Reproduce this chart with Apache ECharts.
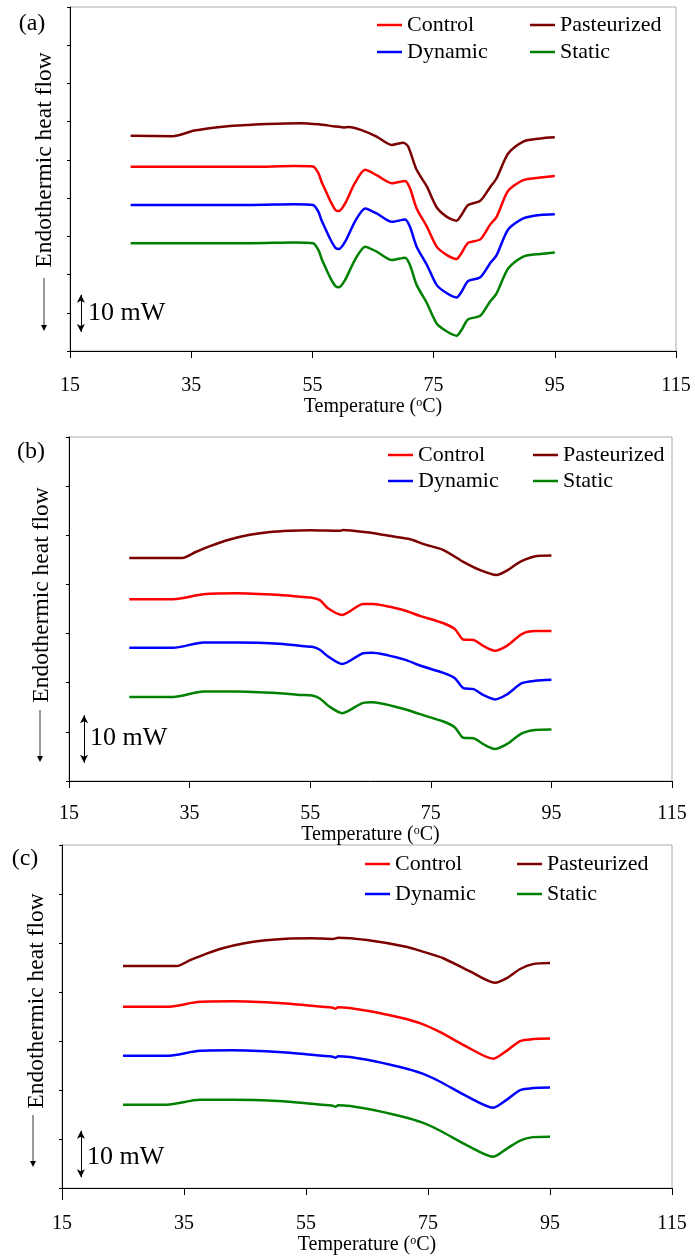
<!DOCTYPE html>
<html>
<head>
<meta charset="utf-8">
<script src="https://cdn.jsdelivr.net/npm/echarts@6/dist/echarts.min.js"></script>
<style>
html,body{margin:0;padding:0;background:#fff;}
#chart{width:695px;height:1256px;}
</style>
</head>
<body>
<div id="chart"></div>
<script>
// ---------- DATA (temperature °C, heat flow mW) ----------
const xTicks = [15, 35, 55, 75, 95, 115];
const seriesNames = ['Control', 'Pasteurized', 'Dynamic', 'Static'];
const panelLabels = ['(a)', '(b)', '(c)'];
const yAxisTitle = 'Endothermic heat flow';
const scaleText = '10 mW';

// Panel (a)
const aControl = [[25,48.2],[35,48.2],[45,48.2],[52,48.4],[55.1,48.3],[56,46.5],[56.5,44.3],[57,42.6],[58,39.1],[58.8,36.9],[59.4,36.6],[60.4,38.6],[62.0,43.9],[63.7,47.4],[65.6,46.0],[68.1,43.9],[70.3,44.5],[71.1,42.6],[72.2,37.3],[73.9,32.5],[75.5,27.3],[77.2,25.1],[78.8,24.1],[79.6,25.6],[80.7,28.3],[82.7,29.2],[84.3,33.0],[85.4,35.1],[87.3,41.9],[89.8,44.7],[92.6,45.4],[95,45.8]];
const aPasteurized = [[25,56.3],[32,56.2],[33.5,56.7],[35.3,57.6],[38,58.3],[41,58.8],[44,59.1],[47.5,59.4],[53,59.6],[56,59.3],[58.5,58.8],[60.1,58.5],[61,58.6],[63.1,57.8],[65.6,56.1],[68.1,53.9],[70.0,54.5],[70.8,53.5],[72.2,47.4],[73.9,43.0],[75.5,37.6],[77.2,35.1],[78.8,34.1],[79.6,35.6],[80.7,38.2],[82.7,39.3],[84.3,42.8],[85.4,45.2],[87.3,51.7],[89.8,54.8],[92.6,55.6],[95,55.9]];
const aDynamic = [[25,38.2],[35,38.2],[45,38.2],[52,38.4],[55.1,38.2],[56,36.4],[56.5,34.2],[57,32.5],[58,29.1],[58.8,27.0],[59.4,26.7],[60.4,28.6],[62.0,33.8],[63.7,37.3],[65.6,36.0],[68.1,33.8],[70.3,34.4],[71.1,32.5],[72.2,27.3],[73.9,22.5],[75.5,17.3],[77.2,15.1],[78.8,14.0],[79.6,15.5],[80.7,18.3],[82.7,19.3],[84.3,22.9],[85.4,25.1],[87.3,31.8],[89.8,34.7],[92.6,35.6],[95,35.8]];
const aStatic = [[25,28.2],[35,28.2],[45,28.2],[52,28.4],[55.1,28.2],[56,26.4],[56.5,24.2],[57,22.4],[58,19.0],[58.8,17.0],[59.4,16.7],[60.4,18.6],[62.0,23.8],[63.7,27.3],[65.6,26.0],[68.1,23.8],[70.3,24.4],[71.1,22.5],[72.2,17.3],[73.9,12.5],[75.5,7.2],[77.2,5.1],[78.8,4.0],[79.6,5.5],[80.7,8.3],[82.7,9.2],[84.3,12.9],[85.4,15.1],[87.3,21.6],[89.8,24.7],[92.6,25.4],[95,25.8]];

// Panel (b)
const bControl = [[25,37.0],[32.3,37.0],[37.3,38.0],[42.8,38.2],[50.5,37.8],[53.3,37.5],[55.3,37.3],[56.6,36.8],[58.0,35.1],[60.3,33.8],[63.8,36.0],[65.2,36.0],[70.4,34.8],[73.2,33.6],[77.1,32.1],[79.0,30.9],[80.4,28.8],[82.1,28.7],[83.7,27.5],[85.6,26.5],[87.6,27.5],[90.1,29.9],[92.3,30.5],[95,30.5]];
const bPasteurized = [[25,45.4],[33.8,45.4],[36,46.6],[38.4,47.8],[41.5,49.1],[45,50.1],[48,50.6],[51.6,50.9],[55,51.0],[59.9,50.9],[60.5,51.1],[64.4,50.6],[68,49.9],[71.6,49.2],[73.8,48.2],[77.1,47.0],[80.4,44.6],[83.2,42.9],[85.9,41.9],[87.6,42.8],[89.8,44.6],[92.6,45.8],[95,45.9]];
const bDynamic = [[25,27.1],[32.3,27.1],[37.3,28.2],[42.8,28.2],[50.5,27.9],[53.3,27.5],[55.3,27.3],[56.6,26.7],[58.0,25.3],[60.3,23.8],[63.8,26.0],[65.2,26.1],[70.4,24.8],[73.2,23.5],[77.1,22.0],[79.0,20.9],[80.4,18.9],[82.1,18.7],[83.7,17.5],[85.6,16.6],[87.6,17.6],[90.1,19.9],[92.3,20.4],[95,20.6]];
const bStatic = [[25,17.1],[32.3,17.1],[37.3,18.2],[42.8,18.2],[50.5,17.8],[53.3,17.5],[55.3,17.4],[56.6,16.8],[58.0,15.3],[60.3,13.8],[63.8,15.9],[65.2,16.0],[70.4,14.7],[73.2,13.6],[77.1,12.1],[79.0,10.9],[80.4,8.8],[82.1,8.7],[83.7,7.5],[85.6,6.5],[87.6,7.5],[90.1,9.7],[92.3,10.4],[95,10.5]];

// Panel (c)
const cControl = [[25,37.0],[32.2,37.0],[37.6,38.0],[43,38.1],[51.2,37.7],[55,37.3],[59.4,36.8],[59.8,36.6],[60.3,36.9],[65,36.2],[70.4,34.8],[74,33.5],[77,31.8],[81.4,28.8],[85.7,26.4],[88,28.1],[90.1,30.0],[92.2,30.4],[95,30.5]];
const cPasteurized = [[25,45.3],[33.8,45.3],[36,46.5],[38.8,47.9],[41.5,49.0],[44.7,49.9],[48,50.5],[52.4,50.9],[56,51.0],[59.4,50.8],[60.3,51.1],[65,50.6],[71.6,49.2],[74,48.3],[77.5,46.9],[81.9,44.2],[86,41.9],[88,42.9],[90.1,44.7],[92.2,45.7],[95,45.9]];
const cDynamic = [[25,27.0],[32.2,27.0],[37.6,28.0],[43,28.1],[51.2,27.7],[55,27.3],[59.4,26.8],[59.8,26.6],[60.3,26.9],[65,26.2],[70.4,24.7],[74,23.4],[77,21.7],[81.4,18.7],[85.7,16.4],[88,18.1],[90.1,20.0],[92.2,20.4],[95,20.5]];
const cStatic = [[25,17.0],[32.2,17.0],[37.6,18.0],[43,18.0],[51.2,17.7],[55,17.3],[59.4,16.8],[59.8,16.6],[60.3,16.9],[65,16.2],[70.4,14.7],[74,13.4],[77,11.7],[81.4,8.7],[85.7,6.4],[88,8.1],[90.1,9.7],[92.2,10.4],[95,10.5]];

// y-axis ranges (mW) and 10 mW scale bars [x, yFrom, yTo]
const yMax = [90, 70, 70];
const scaleBars = [[16.8, 5.0, 14.7], [17.5, 3.7, 13.4], [18.1, 2.2, 11.7]];

// ---------- LAYOUT ----------
const FONT = '"Liberation Serif", "Times New Roman", serif';
const colors = { Control: '#ff0000', Pasteurized: '#7b0000', Dynamic: '#0000ff', Static: '#008000' };
const grids = [
  { left: 70, top: 7, width: 606, height: 344 },
  { left: 69, top: 437, width: 603, height: 344 },
  { left: 62, top: 845, width: 610, height: 348 }
];
const nameGaps = [42, 38, 41];
const labelMargins = [25, 23, 26];
const legendPos = [
  { l1: 377, l2: 530, top: 14, gap: 5 },
  { l1: 388, l2: 533, top: 444, gap: 4 },
  { l1: 365, l2: 517, top: 853, gap: 8 }
];
const yLabelPos = [[45, 160], [41.5, 595], [36.5, 1001]];
const yArrowPos = [[44, 278, 331], [40, 710, 762], [33, 1115, 1167]];
const panelLabelPos = [[32, 24], [31, 452], [25, 859]];
const scaleTextPos = [[88, 313], [90, 738], [87, 1157]];
const axisExt = [[70, 351, 358], null, [62, 1193, 1200]];

const panelData = [
  { Control: aControl, Pasteurized: aPasteurized, Dynamic: aDynamic, Static: aStatic },
  { Control: bControl, Pasteurized: bPasteurized, Dynamic: bDynamic, Static: bStatic },
  { Control: cControl, Pasteurized: cPasteurized, Dynamic: cDynamic, Static: cStatic }
];

const option = {
  backgroundColor: '#fff',
  animation: false,
  grid: grids.map(g => Object.assign({ show: true, borderColor: '#aaaaaa', borderWidth: 1, backgroundColor: 'transparent' }, g)),
  xAxis: grids.map((g, i) => ({
    type: 'value', gridIndex: i, min: xTicks[0], max: xTicks[xTicks.length - 1], interval: 20,
    name: 'Temperature ({sup|o}C)', nameLocation: 'middle', nameGap: nameGaps[i],
    nameTextStyle: { fontFamily: FONT, fontSize: 20, color: '#000', lineHeight: 20,
      rich: { sup: { fontFamily: FONT, fontSize: 12, color: '#000', verticalAlign: 'top', lineHeight: 20, padding: [0, 0, 8, 0] } } },
    axisLine: { show: true, lineStyle: { color: '#000', width: 1 } },
    axisTick: { show: true, length: 7, inside: false, lineStyle: { color: '#000' } },
    axisLabel: { fontFamily: FONT, fontSize: 20, color: '#000', margin: labelMargins[i] },
    splitLine: { show: false }
  })),
  yAxis: grids.map((g, i) => ({
    type: 'value', gridIndex: i, min: 0, max: yMax[i], interval: 10,
    axisLine: { show: true, lineStyle: { color: '#000', width: 1 } },
    axisTick: { show: true, length: 3, inside: false, lineStyle: { color: '#000' } },
    axisLabel: { show: false },
    splitLine: { show: false }
  })),
  legend: [],
  series: [],
  graphic: []
};

panelData.forEach((pd, i) => {
  seriesNames.forEach(n => {
    option.series.push({
      type: 'line', name: n, xAxisIndex: i, yAxisIndex: i,
      data: pd[n], showSymbol: false, symbol: 'none', smooth: 0.25,
      lineStyle: { color: colors[n], width: 2.5 }, itemStyle: { color: colors[n] },
      z: 3
    });
  });
  const sb = scaleBars[i];
  option.series.push({
    type: 'line', name: 'scale' + i, xAxisIndex: i, yAxisIndex: i,
    data: [[sb[0], sb[1]], [sb[0], sb[2]]], showSymbol: false, symbol: 'none',
    lineStyle: { width: 0, opacity: 0 }, silent: true,
    markLine: {
      silent: true, symbol: ['arrow', 'arrow'], symbolSize: [6, 8],
      lineStyle: { color: '#000', width: 1, type: 'solid' }, label: { show: false },
      data: [[{ coord: [sb[0], sb[1]] }, { coord: [sb[0], sb[2]] }]]
    }
  });
  const lp = legendPos[i];
  const common = {
    orient: 'vertical', top: lp.top, itemGap: lp.gap, itemWidth: 25, itemHeight: 14, padding: 0,
    selectedMode: false, icon: 'path://M0,6 L25,6 L25,8.5 L0,8.5 Z',
    textStyle: { fontFamily: FONT, fontSize: 22, color: '#000', lineHeight: 22 }
  };
  option.legend.push(Object.assign({ left: lp.l1, data: [
    { name: 'Control', itemStyle: { color: colors.Control } },
    { name: 'Dynamic', itemStyle: { color: colors.Dynamic } }] }, common));
  option.legend.push(Object.assign({ left: lp.l2, data: [
    { name: 'Pasteurized', itemStyle: { color: colors.Pasteurized } },
    { name: 'Static', itemStyle: { color: colors.Static } }] }, common));

  // panel label
  option.graphic.push({ type: 'text', x: panelLabelPos[i][0], y: panelLabelPos[i][1],
    style: { text: panelLabels[i], font: '24px ' + FONT, fill: '#000', align: 'center', verticalAlign: 'middle' } });
  // y-axis title
  option.graphic.push({ type: 'text', x: yLabelPos[i][0], y: yLabelPos[i][1], rotation: Math.PI / 2,
    style: { text: yAxisTitle, font: '23.5px ' + FONT, fill: '#000', align: 'center', verticalAlign: 'middle' } });
  // y-axis arrow
  const ya = yArrowPos[i];
  option.graphic.push({ type: 'line', shape: { x1: ya[0], y1: ya[1], x2: ya[0], y2: ya[2] - 4 },
    style: { stroke: '#333', lineWidth: 1 } });
  option.graphic.push({ type: 'polygon', shape: { points: [[ya[0] - 3, ya[2] - 6], [ya[0] + 3, ya[2] - 6], [ya[0], ya[2]]] },
    style: { fill: '#000' } });
  // scale text
  option.graphic.push({ type: 'text', x: scaleTextPos[i][0], y: scaleTextPos[i][1],
    style: { text: scaleText, font: '26px ' + FONT, fill: '#000', align: 'left', verticalAlign: 'middle' } });
  // y-axis line extension below x axis
  if (axisExt[i]) {
    const e = axisExt[i];
    option.graphic.push({ type: 'line', shape: { x1: e[0] + 0.5, y1: e[1], x2: e[0] + 0.5, y2: e[2] },
      style: { stroke: '#000', lineWidth: 1 } });
  }
});

const chart = echarts.init(document.getElementById('chart'), null, { renderer: 'canvas' });
chart.setOption(option);
</script>
</body>
</html>
